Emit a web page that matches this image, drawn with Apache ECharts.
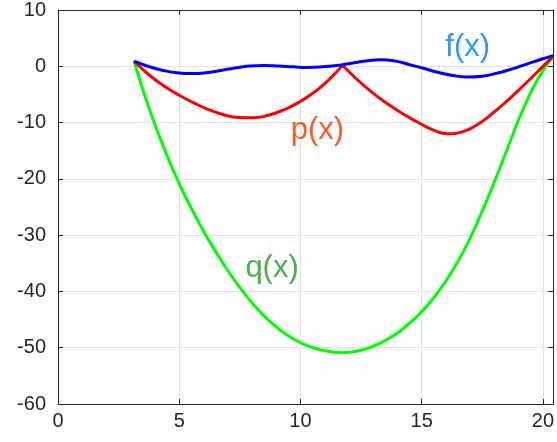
<!DOCTYPE html>
<html>
<head>
<meta charset="utf-8">
<script src="https://cdn.jsdelivr.net/npm/echarts@6/dist/echarts.min.js"></script>
<style>
  html, body { margin: 0; padding: 0; background: #fff; }
  #main { width: 557px; height: 442px; }
</style>
</head>
<body>
<div id="main"></div>
<script>
// f(x) - blue
var fX = [3.14, 3.7, 4.3, 4.9, 5.5, 6.1, 6.7, 7.3, 7.9, 8.5, 9.1, 9.7, 10.3, 10.9, 11.5, 12.1, 12.7, 13.3, 13.9, 14.5, 15.1, 15.7, 16.3, 16.9, 17.5, 18.1, 18.7, 19.3, 19.9, 20.42];
var fY = [0.9, 0.0, -0.7, -1.15, -1.3, -1.15, -0.75, -0.3, 0.05, 0.15, 0.05, -0.1, -0.2, -0.1, 0.15, 0.55, 0.95, 1.15, 0.95, 0.3, -0.4, -1.1, -1.65, -1.9, -1.75, -1.25, -0.5, 0.35, 1.2, 1.9];
// p(x) - red, two arcs
var p1X = [3.14, 3.75, 4.37, 4.98, 5.6, 6.21, 6.83, 7.44, 8.05, 8.67, 9.28, 9.9, 10.51, 11.13, 11.74];
var p1Y = [0.9, -1.5, -3.5, -5.1, -6.5, -7.7, -8.6, -9.1, -9.15, -8.7, -7.8, -6.5, -4.8, -2.6, 0.2];
var p2X = [11.74, 12.36, 12.98, 13.6, 14.22, 14.84, 15.46, 16.08, 16.7, 17.32, 17.94, 18.56, 19.18, 19.8, 20.42];
var p2Y = [0.2, -2.44, -4.72, -6.7, -8.44, -9.94, -11.3, -12.0, -11.6, -10.3, -8.3, -6.0, -3.5, -0.9, 1.8];
// q(x) - green
var qX = [3.14, 3.75, 4.37, 4.98, 5.6, 6.21, 6.83, 7.44, 8.05, 8.67, 9.28, 9.9, 10.51, 11.13, 11.74,
          12.36, 12.98, 13.6, 14.22, 14.84, 15.46, 16.08, 16.7, 17.32, 17.94, 18.56, 19.18, 19.8, 20.42];
var qY = [0.9, -7.39, -14.51, -20.65, -26.05, -30.84, -35.14, -38.95, -42.26, -45.03, -47.24, -48.9, -50.0, -50.62, -50.88,
          -50.59, -49.78, -48.48, -46.68, -44.32, -41.35, -37.63, -33.1, -27.52, -21.2, -14.38, -7.68, -2.22, 1.75];

var xTicks = [0, 5, 10, 15, 20];
var yTicks = [-60, -50, -40, -30, -20, -10, 0, 10];

var labelNames = ['f(x)', 'p(x)', 'q(x)'];

function pairs(xs, ys) {
    var out = [];
    for (var i = 0; i < xs.length; i++) {
        out.push([xs[i], ys[i]]);
    }
    return out;
}

var axisColor = '#262626';
var gridColor = '#e3e3e3';

// '-' breaks the line so the cusp at the join stays sharp
var pData = pairs(p1X, p1Y).concat(['-']).concat(pairs(p2X, p2Y));

var option = {
    animation: false,
    textStyle: { fontFamily: 'Liberation Sans, Arial, sans-serif' },
    grid: { left: 58, right: 0, top: 10, bottom: 38 },
    xAxis: [
        {
            type: 'value', min: xTicks[0], max: 20.42, interval: 5,
            axisLine: { onZero: false, lineStyle: { color: axisColor, width: 1 } },
            axisTick: { inside: true, length: 5, lineStyle: { color: axisColor } },
            axisLabel: { color: axisColor, fontSize: 20, margin: 7, showMaxLabel: false },
            splitLine: { show: true, lineStyle: { color: gridColor, width: 1 } }
        },
        {
            type: 'value', position: 'top', min: xTicks[0], max: 20.42, interval: 5,
            axisLine: { show: true, onZero: false, lineStyle: { color: axisColor, width: 1 } },
            axisTick: { inside: true, length: 5, lineStyle: { color: axisColor } },
            axisLabel: { show: false },
            splitLine: { show: false }
        }
    ],
    yAxis: [
        {
            type: 'value', min: yTicks[0], max: yTicks[yTicks.length - 1], interval: 10,
            axisLine: { show: true, onZero: false, lineStyle: { color: axisColor, width: 1 } },
            axisTick: { show: true, inside: true, length: 5, lineStyle: { color: axisColor } },
            axisLabel: { color: axisColor, fontSize: 20, margin: 12 },
            splitLine: { show: true, lineStyle: { color: gridColor, width: 1 } }
        },
        {
            type: 'value', position: 'right', min: yTicks[0], max: yTicks[yTicks.length - 1], interval: 10,
            axisLine: { show: true, onZero: false, lineStyle: { color: axisColor, width: 1 } },
            axisTick: { show: true, inside: true, length: 5, lineStyle: { color: axisColor } },
            axisLabel: { show: false },
            splitLine: { show: false }
        }
    ],
    series: [
        {
            name: 'q(x)', type: 'line', smooth: true, showSymbol: false,
            data: pairs(qX, qY),
            lineStyle: { color: '#00ff00', width: 3 }
        },
        {
            name: 'p(x)', type: 'line', smooth: true, showSymbol: false, connectNulls: false,
            data: pData,
            lineStyle: { color: '#ff0000', width: 3 }
        },
        {
            name: 'f(x)', type: 'line', smooth: true, showSymbol: false,
            data: pairs(fX, fY),
            lineStyle: { color: '#0000ff', width: 3 }
        }
    ]
};

var myChart = echarts.init(document.getElementById('main'), null, { renderer: 'canvas' });
myChart.setOption(option);

// 曲线名称标注 (data coordinates)
var labelAt = [[16.9, 3.4], [10.7, -11.4], [8.83, -35.9]];
var labelColors = ['#2e9af0', '#ff5a28', '#4caf50'];
var texts = [];
for (var i = 0; i < labelNames.length; i++) {
    var pt = myChart.convertToPixel({ gridIndex: 0 }, labelAt[i]);
    texts.push({
        type: 'text', x: pt[0], y: pt[1], z: 10,
        style: {
            text: labelNames[i], fill: labelColors[i],
            font: '31px "Liberation Sans", Arial, sans-serif',
            align: 'center', verticalAlign: 'middle'
        }
    });
}
myChart.setOption({ graphic: texts });
</script>
</body>
</html>
